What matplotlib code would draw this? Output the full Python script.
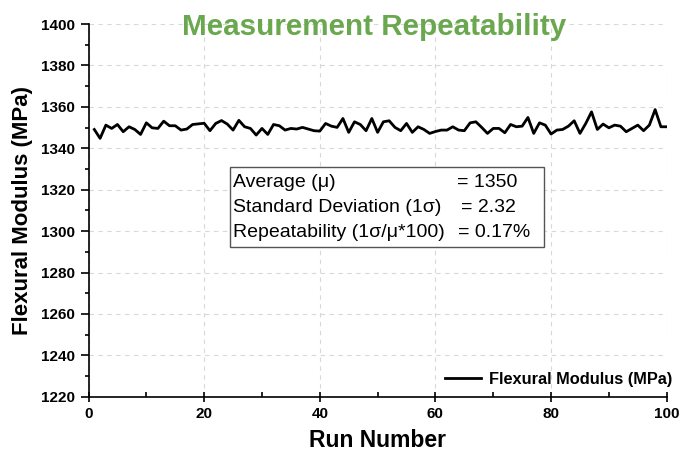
import numpy as np
import matplotlib.pyplot as plt
from matplotlib.ticker import MultipleLocator

plt.rcParams['font.family'] = ['Liberation Sans', 'DejaVu Sans']

runs = np.arange(1, 101)
modulus = [
    1349.1, 1344.8, 1351.2, 1349.6, 1351.5, 1348.0, 1350.4, 1349.1, 1346.7, 1352.3,
    1349.9, 1349.6, 1353.1, 1350.9, 1350.9, 1348.8, 1349.3, 1351.5, 1351.8, 1352.1,
    1348.5, 1352.0, 1353.4, 1351.7, 1348.8, 1353.5, 1350.4, 1349.6, 1346.4, 1349.6,
    1346.7, 1351.5, 1350.9, 1348.8, 1349.6, 1349.3, 1350.1, 1349.3, 1348.5, 1348.3,
    1352.0, 1350.7, 1350.1, 1354.4, 1347.7, 1352.8, 1351.5, 1348.5, 1354.4, 1347.7,
    1352.8, 1353.3, 1350.1, 1348.5, 1352.0, 1347.7, 1350.4, 1349.1, 1347.2, 1348.1,
    1348.8, 1348.8, 1350.4, 1348.8, 1348.5, 1352.3, 1352.8, 1350.1, 1347.2, 1349.6,
    1349.6, 1347.5, 1351.5, 1350.4, 1350.7, 1354.9, 1347.2, 1352.3, 1351.2, 1346.9,
    1348.8, 1349.1, 1350.7, 1353.3, 1347.2, 1352.0, 1357.6, 1349.1, 1351.7, 1349.9,
    1351.2, 1350.7, 1348.0, 1349.6, 1351.2, 1348.5, 1351.2, 1358.7, 1350.4, 1350.4,
]

stat_names = ['Average (\u03bc)', 'Standard Deviation (1\u03c3)', 'Repeatability (1\u03c3/\u03bc*100)']
stat_values = ['= 1350', '= 2.32', '= 0.17%']

fig = plt.figure(figsize=(6.81, 4.54), dpi=100)
ax = fig.add_axes([0.130, 0.126, 0.849, 0.821])

ax.plot(runs, modulus, color='black', lw=2.0, label='Flexural Modulus (MPa)')

ax.set_xlim(0, 100)
ax.set_ylim(1220, 1400)
ax.xaxis.set_major_locator(MultipleLocator(20))
ax.xaxis.set_minor_locator(MultipleLocator(10))
ax.yaxis.set_major_locator(MultipleLocator(20))
ax.yaxis.set_minor_locator(MultipleLocator(10))
ax.tick_params(axis='x', which='major', direction='inout', length=7, width=1.2)
ax.tick_params(axis='x', which='minor', direction='in', length=3.5, width=1.2)
ax.tick_params(axis='y', which='major', direction='out', length=6, width=1.2)
ax.tick_params(axis='y', which='minor', direction='out', length=3, width=1.2)
ax.tick_params(labelsize=11)
for lab in ax.get_xticklabels() + ax.get_yticklabels():
    lab.set_fontweight('bold')

for s in ['top', 'right']:
    ax.spines[s].set_visible(False)
for s in ['left', 'bottom']:
    ax.spines[s].set_linewidth(1.2)

ax.grid(True, which='major', color='#d8d8d8', ls=(0, (4, 4)), lw=0.8)
ax.set_axisbelow(True)

ax.set_xlabel('Run Number', fontsize=16.5, fontweight='bold', labelpad=6)
ax.set_ylabel('Flexural Modulus (MPa)', fontsize=16, fontweight='bold', labelpad=6)

fig.text(0.549, 0.94, 'Measurement Repeatability', ha='center', va='center',
         fontsize=21.3, fontweight='bold', color='#6aa84f')

# statistics box
box = plt.Rectangle((0.338, 0.456), 0.461, 0.176, transform=fig.transFigure,
                    fill=True, facecolor='white', edgecolor='#555555', lw=1.0)
fig.add_artist(box)
val_x = [0.671, 0.677, 0.672]
for i, (n, v) in enumerate(zip(stat_names, stat_values)):
    yy = 0.599 - i * 0.056
    fig.text(0.342, yy, n, ha='left', va='center', fontsize=14)
    fig.text(val_x[i], yy, v, ha='left', va='center', fontsize=14)

leg = ax.legend(loc='lower right', bbox_to_anchor=(1.03, -0.005), frameon=False,
                prop={'size': 11.8, 'weight': 'bold'}, handlelength=2.2,
                handletextpad=0.5, borderaxespad=0.3)

fig.savefig('out.png', dpi=100)
